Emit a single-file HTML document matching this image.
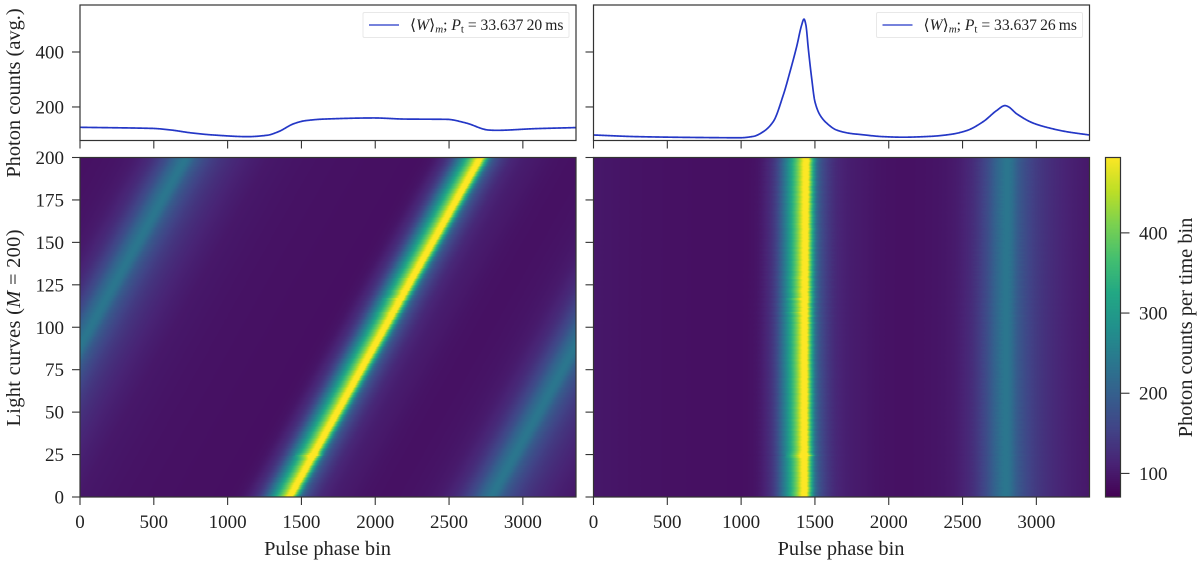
<!DOCTYPE html>
<html lang="en">
<head>
<meta charset="utf-8">
<title>Pulse phase light curves</title>
<style>
html,body{margin:0;padding:0;background:#fff;}
#figure{position:relative;width:1200px;height:563px;overflow:hidden;background:#fff;}
canvas{position:absolute;display:block;}
svg{position:absolute;left:0;top:0;}
text{font-family:"Liberation Serif",serif;fill:#222;}
</style>
</head>
<body>
<div id="figure">
<canvas id="heatLeft" width="496" height="340" style="left:80px;top:157px"></canvas>
<canvas id="heatRight" width="496" height="340" style="left:593.5px;top:157px"></canvas>
<canvas id="cbar" width="15" height="340" style="left:1105.5px;top:157px"></canvas>
<svg id="plot" width="1200" height="563" viewBox="0 0 1200 563"></svg>
</div>
<script>
// ---- data ----
const xTickValues = [0, 500, 1000, 1500, 2000, 2500, 3000];
const topTickValues = [200, 400];
const rowTickValues = [0, 25, 50, 75, 100, 125, 150, 175, 200];
const cbarTickValues = [100, 200, 300, 400];

const leftProfileBins = [0, 490, 619, 749, 904, 1137, 1267, 1344, 1448, 1525, 1655, 1992, 2199, 2484, 2613, 2769, 2820, 3079, 3360];
const leftProfileCounts = [126, 122, 116, 106, 98, 92, 97, 110, 139, 150, 156, 160, 156, 155, 142, 116, 115, 121, 125];

const rightProfileBins = [0, 300, 700, 992, 1083, 1150, 1218, 1286, 1331, 1376, 1410, 1426, 1439, 1455, 1478, 1500, 1534, 1580, 1647, 1737, 1805, 1963, 2095, 2280, 2415, 2528, 2641, 2731, 2788, 2810, 2867, 2980, 3092, 3205, 3360];
const rightProfileCounts = [98, 92, 89, 88, 93, 110, 147, 244, 328, 419, 498, 520, 498, 413, 304, 219, 171, 141, 116, 104, 100, 92, 90, 93, 100, 114, 147, 187, 205, 201, 175, 141, 123, 110, 98];

// per-row template of the heatmap (its weaker peak reads brighter than the averaged curve)
const heatProfileBins = [0, 300, 700, 992, 1083, 1150, 1218, 1286, 1331, 1376, 1410, 1426, 1439, 1455, 1478, 1500, 1534, 1580, 1647, 1737, 1805, 1963, 2095, 2280, 2415, 2528, 2641, 2731, 2788, 2810, 2867, 2980, 3092, 3205, 3360];
const heatProfileCounts = [98, 92, 89, 88, 93, 110, 147, 244, 328, 419, 498, 520, 498, 413, 304, 219, 171, 141, 116, 104, 100, 92, 90, 93, 100, 118, 160, 215, 238, 232, 190, 146, 124, 110, 98];

const rowPeakBinLeft = [
1434,1441,1447,1454,1460,1467,1472,1479,1486,1492,1499,1505,1512,1518,1525,1531,1538,1544,1551,1557,
1563,1570,1576,1583,1592,1596,1602,1609,1615,1622,1628,1635,1641,1648,1654,1660,1667,1673,1680,1686,
1693,1699,1706,1712,1719,1725,1731,1738,1744,1751,1757,1764,1770,1777,1783,1790,1796,1803,1809,1815,
1822,1828,1835,1841,1848,1854,1861,1867,1874,1880,1886,1893,1899,1906,1912,1919,1925,1932,1938,1945,
1951,1957,1964,1970,1977,1983,1990,1996,2003,2009,2016,2022,2028,2035,2041,2048,2054,2061,2067,2074,
2081,2085,2094,2098,2107,2112,2120,2124,2133,2137,2146,2150,2157,2165,2169,2178,2182,2191,2195,2204,
2208,2216,2221,2229,2234,2241,2247,2254,2260,2267,2273,2280,2286,2293,2299,2306,2312,2319,2325,2332,
2338,2345,2351,2358,2364,2371,2377,2384,2390,2397,2403,2410,2416,2423,2429,2436,2442,2449,2455,2462,
2468,2475,2481,2488,2494,2501,2507,2514,2520,2527,2533,2540,2546,2553,2559,2566,2572,2579,2585,2592,
2598,2605,2611,2618,2624,2631,2637,2644,2650,2657,2663,2670,2676,2683,2689,2696,2702,2709,2715,2722];

const rowPeakBinRight = [
1434,1436,1433,1437,1435,1438,1434,1436,1433,1437,1435,1439,1434,1436,1438,1433,1436,1434,1438,1435,
1437,1433,1436,1434,1442,1436,1433,1437,1435,1438,1434,1436,1433,1437,1435,1438,1434,1436,1439,1433,
1436,1438,1434,1437,1435,1433,1438,1435,1437,1434,1436,1438,1433,1436,1435,1438,1434,1437,1435,1436,
1439,1434,1436,1438,1433,1437,1435,1438,1436,1434,1438,1435,1437,1436,1434,1438,1436,1435,1439,1437,
1434,1438,1436,1435,1439,1436,1438,1435,1437,1439,1436,1434,1438,1437,1435,1440,1436,1438,1435,1439,
1437,1434,1441,1436,1439,1435,1442,1437,1434,1440,1436,1443,1437,1435,1441,1438,1436,1442,1437,1440,
1436,1441,1438,1443,1437,1440,1438,1442,1439,1437,1441,1439,1443,1438,1441,1439,1442,1440,1438,1443,
1440,1442,1439,1443,1441,1439,1444,1440,1442,1441,1444,1439,1443,1441,1444,1440,1442,1445,1441,1443,
1440,1445,1442,1444,1441,1445,1443,1441,1446,1442,1444,1443,1446,1441,1445,1443,1446,1442,1444,1447,
1443,1445,1442,1446,1444,1447,1443,1445,1448,1444,1446,1443,1447,1445,1448,1444,1446,1449,1445,1447];

const flareRows = [23, 24, 25, 108, 116, 121, 128];
const flareGain = [1.04, 1.12, 1.04, 1.04, 1.05, 1.04, 1.03];

const viridisStops = ['#440154','#482475','#414487','#355f8d','#2a788e','#21918c','#22a884','#44bf70','#7ad151','#bddf26','#fde725'];

const cbarMin = 70.6;
const cbarMax = 494;
const binMax = 3360;
const rowMax = 200;
const topMin = 78;
const topMax = 571;

// ---- layout ----
const leftPanel = {x0: 80, x1: 576};
const rightPanel = {x0: 593.5, x1: 1089.5};
const topBox = {y0: 5, y1: 140.5};
const heatBox = {y0: 157.5, y1: 497};
const SPINE = '#333';
const TICK_FONT = 19;
const TITLE_FONT = 20.4;

// ---- axis functions ----
function xScale(panel, bin) { return panel.x0 + bin / binMax * (panel.x1 - panel.x0); }
function yTop(c) { return topBox.y1 - (c - topMin) / (topMax - topMin) * (topBox.y1 - topBox.y0); }
function yRow(r) { return heatBox.y1 - r / rowMax * (heatBox.y1 - heatBox.y0); }
function yCbar(v) { return heatBox.y1 - (v - cbarMin) / (cbarMax - cbarMin) * (heatBox.y1 - heatBox.y0); }

function hexRgb(h) { return [parseInt(h.slice(1,3),16), parseInt(h.slice(3,5),16), parseInt(h.slice(5,7),16)]; }
const stopRgb = viridisStops.map(hexRgb);
function colorOf(v) {
  let t = (v - cbarMin) / (cbarMax - cbarMin);
  t = Math.max(0, Math.min(1, t)) * (stopRgb.length - 1);
  const i = Math.min(stopRgb.length - 2, Math.floor(t)), f = t - i;
  return [0,1,2].map(k => stopRgb[i][k] + (stopRgb[i+1][k] - stopRgb[i][k]) * f);
}
// monotone cubic curve through the values
function smoothCurve(xs, ys) {
  const n = xs.length, d = [], m = [];
  for (let i = 0; i < n - 1; i++) d.push((ys[i+1] - ys[i]) / (xs[i+1] - xs[i]));
  m[0] = d[0]; m[n-1] = d[n-2];
  for (let i = 1; i < n - 1; i++) {
    m[i] = d[i-1] * d[i] <= 0 ? 0 : 2 * d[i-1] * d[i] / (d[i-1] + d[i]);
  }
  return function (x) {
    let i = 0;
    while (i < n - 2 && x > xs[i+1]) i++;
    const h = xs[i+1] - xs[i], t = (x - xs[i]) / h, t2 = t * t, t3 = t2 * t;
    return (2*t3 - 3*t2 + 1) * ys[i] + (t3 - 2*t2 + t) * h * m[i] + (-2*t3 + 3*t2) * ys[i+1] + (t3 - t2) * h * m[i+1];
  };
}
const rightCurve = smoothCurve(rightProfileBins, rightProfileCounts);
const leftCurve = smoothCurve(leftProfileBins, leftProfileCounts);
const heatCurve = smoothCurve(heatProfileBins, heatProfileCounts);
function profileAt(bin) {
  bin = ((bin % binMax) + binMax) % binMax;
  return heatCurve(bin);
}

// ---- heatmaps ----
function drawHeat(id, rowPeaks) {
  const cv = document.getElementById(id), ctx = cv.getContext('2d');
  const W = cv.width, H = cv.height, img = ctx.createImageData(W, H);
  const ref = rowPeakBinRight[0];
  for (let py = 0; py < H; py++) {
    const row = Math.min(rowMax - 1, Math.floor((H - 0.5 - py) / H * rowMax));
    const shift = rowPeaks[row] - ref;
    const fi = flareRows.indexOf(row);
    const gain = fi >= 0 ? flareGain[fi] : 1;
    for (let px = 0; px < W; px++) {
      const bin = (px + 0.5) / W * binMax;
      const base = profileAt(bin - shift);
      const c = colorOf(base > 260 ? base * gain : base);
      const o = (py * W + px) * 4;
      img.data[o] = c[0]; img.data[o+1] = c[1]; img.data[o+2] = c[2]; img.data[o+3] = 255;
    }
  }
  ctx.putImageData(img, 0, 0);
}
drawHeat('heatLeft', rowPeakBinLeft);
drawHeat('heatRight', rowPeakBinRight);

(function () {
  const cv = document.getElementById('cbar'), ctx = cv.getContext('2d');
  for (let py = 0; py < cv.height; py++) {
    const c = colorOf(cbarMax - (py + 0.5) / cv.height * (cbarMax - cbarMin));
    ctx.fillStyle = 'rgb(' + c.map(Math.round).join(',') + ')';
    ctx.fillRect(0, py, cv.width, 1);
  }
})();

// ---- svg drawing ----
const NS = 'http://www.w3.org/2000/svg';
const svg = document.getElementById('plot');
function make(tag, attrs, parent) {
  const e = document.createElementNS(NS, tag);
  for (const k in attrs) e.setAttribute(k, attrs[k]);
  (parent || svg).appendChild(e);
  return e;
}
function addLabel(txt, x, y, size, anchor, rot) {
  const attrs = {x: x, y: y, 'font-size': size, 'text-anchor': anchor};
  if (rot) attrs.transform = 'rotate(-90 ' + x + ' ' + y + ')';
  const t = make('text', attrs);
  t.textContent = txt;
  return t;
}
function addBox(x0, y0, x1, y1) {
  return make('rect', {x: x0, y: y0, width: x1 - x0, height: y1 - y0, fill: 'none', stroke: SPINE, 'stroke-width': 1.2});
}
function addTick(x1, y1, x2, y2) {
  return make('line', {x1: x1, y1: y1, x2: x2, y2: y2, stroke: SPINE, 'stroke-width': 1.1});
}

const panels = [
  {key: 'left', box: leftPanel, curve: leftCurve, period: '33.637\u200920', labelled: true},
  {key: 'right', box: rightPanel, curve: rightCurve, period: '33.637\u200926', labelled: false}
];

panels.forEach(function (p) {
  // profile curve sampled from the smoothed picture readings
  const samples = [];
  for (let b = 0; b <= binMax; b += 4) samples.push(xScale(p.box, b).toFixed(2) + ',' + yTop(p.curve(b)).toFixed(2));
  const curve = make('polyline', {points: samples.join(' '), fill: 'none', stroke: '#2437c6', 'stroke-width': 1.7, 'stroke-linejoin': 'round'});
  
  

  const topFrame = addBox(p.box.x0, topBox.y0, p.box.x1, topBox.y1);
  
  
  const heatFrame = addBox(p.box.x0, heatBox.y0, p.box.x1, heatBox.y1);
  
  

  xTickValues.forEach(function (v) {
    const x = xScale(p.box, v);
    const upper = addTick(x, topBox.y1, x, topBox.y1 + 8);
    
    
    const lower = addTick(x, heatBox.y1, x, heatBox.y1 + 8);
    
    
    const lab = addLabel(String(v), x, 528, TICK_FONT, 'middle');
    
    
  });
  topTickValues.forEach(function (v) {
    const y = yTop(v);
    const t = addTick(p.box.x0 - 8, y, p.box.x0, y);
    
    
    if (p.labelled) {
      const lab = addLabel(String(v), 64, y + 6.5, TICK_FONT, 'end');
      
      
    }
  });
  rowTickValues.forEach(function (v) {
    const y = yRow(v);
    const t = addTick(p.box.x0 - 8, y, p.box.x0, y);
    
    
    if (p.labelled) {
      const lab = addLabel(String(v), 64, y + 6.5, TICK_FONT, 'end');
      
      
    }
  });

  const xTitle = addLabel('Pulse phase bin', (p.box.x0 + p.box.x1) / 2 - 0.5, 555, TITLE_FONT, 'middle');
  
  

  // legend
  const lx = p.box.x1 - 213;
  const legend = make('g', {});
  
  
  make('rect', {x: lx, y: 12.5, width: 206, height: 25, rx: 1.5, fill: '#fff', stroke: '#e8e8e8', 'stroke-width': 1}, legend);
  const sample = make('line', {x1: lx + 6, y1: 25, x2: lx + 36, y2: 25, stroke: '#2437c6', 'stroke-width': 1.3}, legend);
  
  
  const t = make('text', {x: lx + 47, y: 30, 'font-size': 15.6}, legend);
  
  
  function span(s, attrs) { const sp = make('tspan', attrs || {}, t); sp.textContent = s; return sp; }
  span('\u27E8');
  span('W', {'font-style': 'italic'});
  span('\u27E9');
  span('m', {'font-style': 'italic', 'font-size': 11, dy: 2.5});
  span('; ', {dy: -2.5});
  span('P', {'font-style': 'italic'});
  span('t', {'font-size': 11, dy: 2.5});
  span(' = ' + p.period + '\u2009ms', {dy: -2.5});
});

// axis titles
const yTitleTop = addLabel('Photon counts (avg.)', 20, 93, TITLE_FONT, 'middle', true);



const yTitleHeat = make('text', {x: 20, y: 328, 'font-size': TITLE_FONT, 'text-anchor': 'middle', textLength: 197, lengthAdjust: 'spacing', transform: 'rotate(-90 20 328)'});


[['Light curves (', {}], ['M', {'font-style': 'italic'}], [' = 200)', {}]].forEach(function (part) {
  const s = make('tspan', part[1], yTitleHeat);
  s.textContent = part[0];
});

// colorbar
const cbarFrame = addBox(1105.5, heatBox.y0, 1120.5, heatBox.y1);


cbarTickValues.forEach(function (v) {
  const y = yCbar(v);
  const t = addTick(1120.5, y, 1129.5, y);
  
  
  const lab = addLabel(String(v), 1139, y + 6.5, TICK_FONT, 'start');
  
  
});
const cbarTitle = addLabel('Photon counts per time bin', 1192, 327.5, TITLE_FONT, 'middle', true);


</script>
</body>
</html>
